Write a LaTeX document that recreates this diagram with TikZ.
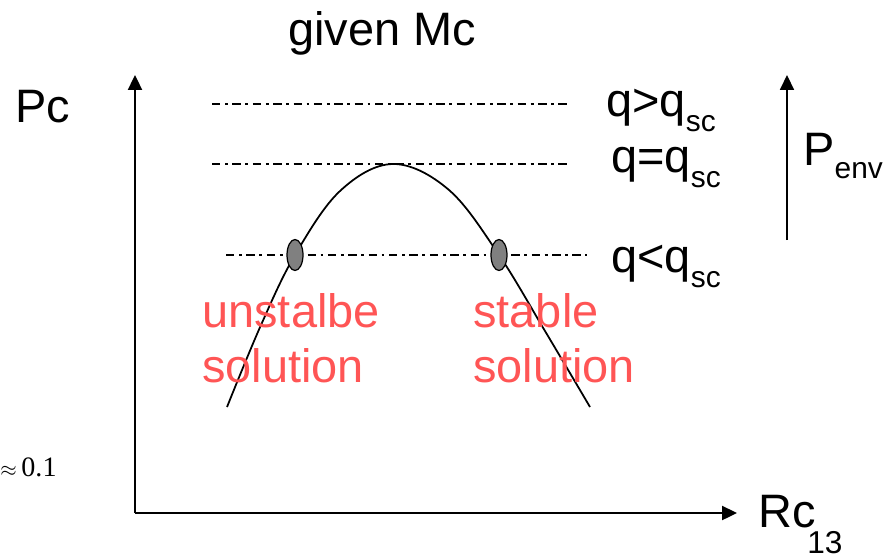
\documentclass[tikz,border=0pt]{standalone}
\usepackage{fontspec}
\setmainfont{Liberation Sans}
\newfontfamily\timesfont{Liberation Serif}
\usetikzlibrary{arrows.meta,shapes.geometric}
\definecolor{solred}{RGB}{255,85,85}
\newcommand{\lowsc}[1]{\raisebox{-9pt}{\fontsize{17}{17}\selectfont #1}}
\newcommand{\lowenv}[1]{\raisebox{-7.5pt}{\fontsize{17}{17}\selectfont #1}}
\tikzset{
  bigtext/.style={font=\fontsize{26.7}{31.2}\selectfont, inner sep=0pt, anchor=base west},
  level/.style={line width=1pt, dash pattern=on 4.8pt off 2.6pt on 1.6pt off 2.6pt},
  axis/.style={line width=1.1pt, -{Triangle[length=8.5pt,width=8pt]}},
  root/.style={ellipse, draw, line width=0.7pt, fill=gray, inner sep=0pt,
    minimum width=0.32cm, minimum height=0.62cm}
}

\begin{document}
\begin{tikzpicture}[x=0.02cm,y=-0.02cm]
\useasboundingbox (0,0) rectangle (896,559);
% axes
\coordinate (O) at (135,513);
\coordinate (Ytop) at (135,75);
\coordinate (Xend) at (737,513);
\draw[axis] (O) -- (Ytop);
\draw[axis] (O) -- (Xend);
\node[bigtext](Pc) at (15,122){Pc};
\node[bigtext](Rc) at (758,527){Rc};
\node[font=\fontsize{18}{18}\selectfont, inner sep=0pt, anchor=base west](page) at (807,553){13};
\node[font=\timesfont\fontsize{16}{16}\selectfont, inner sep=0pt, anchor=base west](approx) at (0,476){{\fontsize{13}{13}\selectfont$\approx$}\,0.1};
\node[bigtext](title) at (288,45){given Mc};
% levels of q
\coordinate (hiL) at (212,104);
\coordinate (hiR) at (570,104);
\coordinate (eqL) at (212,164);
\coordinate (eqR) at (570,164);
\coordinate (loL) at (226,255);
\coordinate (loR) at (587,255);
\draw[level] (hiL) -- (hiR);
\draw[level] (eqL) -- (eqR);
\draw[level] (loL) -- (loR);
\node[bigtext](qhi) at (606,116){q>q\lowsc{sc}};
\node[bigtext](qeq) at (611,172){q=q\lowsc{sc}};
\node[bigtext](qlo) at (611,272){q<q\lowsc{sc}};
% curve
\draw[line width=1pt] plot[smooth, tension=0.6] coordinates
  {(227,407) (261,325) (295,255) (340,191) (393,164) (449,190) (499,255) (545,331) (590,407)};
\node[root](unst) at (295,255){};
\node[root](stab) at (499,255){};
\node[bigtext, text=solred, align=left](ulabel) at (202,382){unstalbe\\solution};
\node[bigtext, text=solred, align=left](slabel) at (473,382){stable\\solution};
% environment pressure
\coordinate (Pbot) at (787,240);
\coordinate (Ptop) at (787,75);
\draw[line width=0.9pt, -{Triangle[length=8.5pt,width=8pt]}] (Pbot) -- (Ptop);
\node[bigtext](Penv) at (803,165){P\lowenv{env}};
\end{tikzpicture}
\end{document}
